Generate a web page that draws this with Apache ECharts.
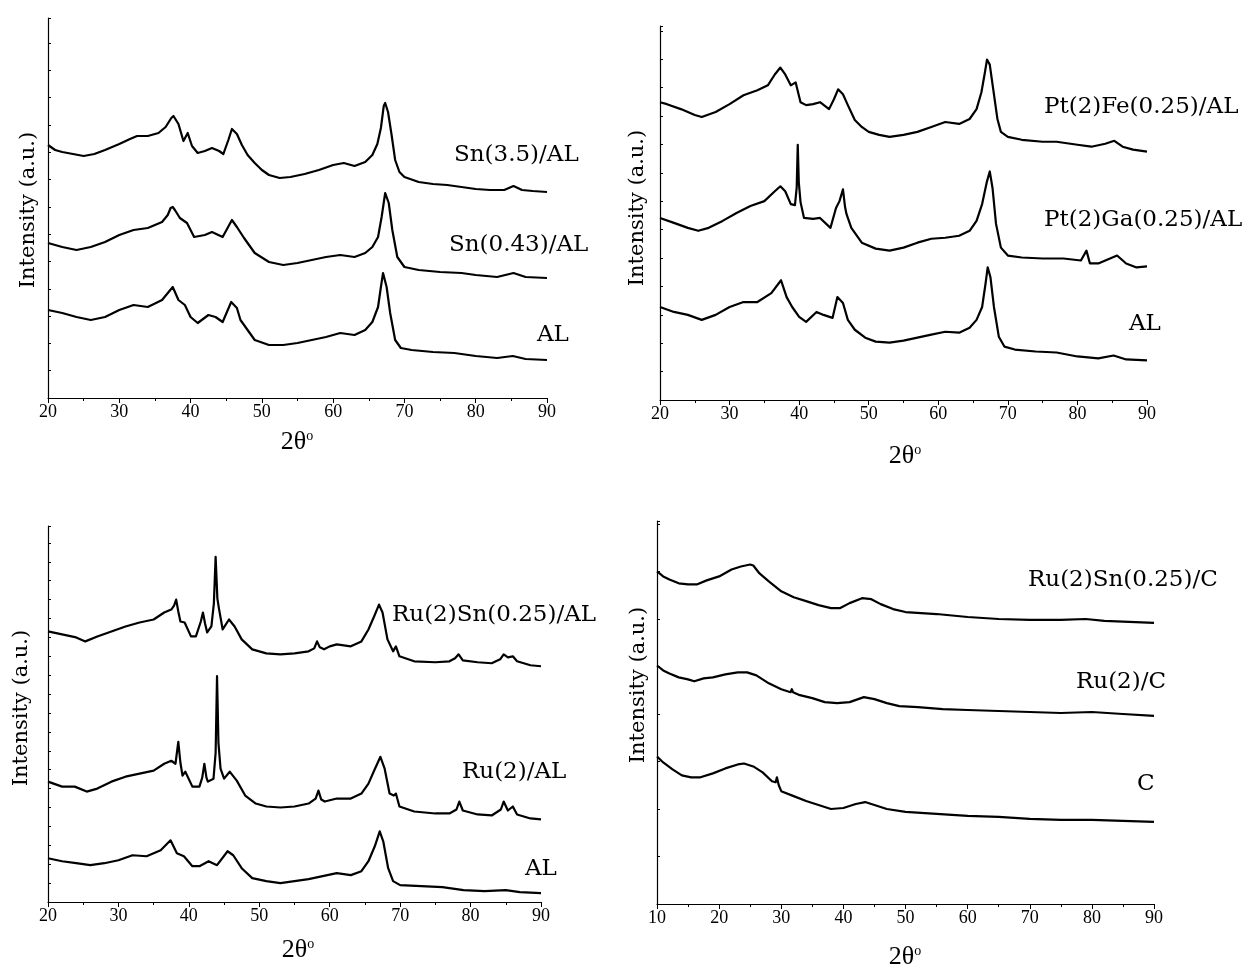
<!DOCTYPE html>
<html>
<head>
<meta charset="utf-8">
<script src="https://cdn.jsdelivr.net/npm/echarts@6/dist/echarts.min.js"></script>
<style>html,body{margin:0;padding:0;background:#fff;}#c{width:1242px;height:973px;}</style>
</head>
<body>
<div id="c"></div>
<script>
// ---------- Data (2θ in degrees, intensity in arbitrary units incl. vertical offset) ----------
// Panel 1 (top-left)
const p1_Sn35 = [[20,253],[21,248],[22,246],[23.5,244],[25,242],[26.5,244],[28,248],[30,254],[31.5,259],[32.5,262],[34,262],[35.5,265],[36.5,271],[37.3,280],[37.6,282],[38.3,274],[39,257],[39.6,265],[40.2,252],[41,245],[42,247],[43,250],[44,247],[44.6,244],[45.3,258],[45.8,269],[46.5,264],[47.2,253],[48,243],[49,235],[50,228],[51,223],[52.5,220],[54,221],[56,224],[58,228],[60,233],[61.5,235],[63,232],[64.5,236],[65.5,243],[66.2,254],[66.7,270],[67.1,292],[67.3,295],[67.7,286],[68.2,263],[68.7,238],[69.3,226],[70,221],[72,216],[74,214],[76,213],[78,211],[80,209],[82,208],[84,208],[85.3,212],[86.5,208],[88,207],[90,206]];
const p1_Sn043 = [[20,155],[22,151],[24,148],[26,151],[28,156],[30,163],[32,168],[34,170],[36,176],[36.8,183],[37.2,190],[37.5,191],[37.8,188],[38.5,180],[39.5,175],[40.5,161],[42,163],[43,166],[44.5,161],[45.8,178],[46.5,171],[47.5,160],[49,145],[51,136],[53,133],[55,135],[57,138],[59,141],[61,143],[63,141],[64.5,145],[65.5,151],[66.3,161],[66.8,181],[67.3,205],[67.8,195],[68.3,168],[69,141],[70,131],[72,128],[75,126],[78,125],[80,123],[83,121],[85.3,125],[87,121],[90,120]];
const p1_AL = [[20,88],[22,85],[24,81],[26,78],[28,81],[30,88],[32,93],[34,91],[36,98],[37.5,111],[38.3,98],[39.2,93],[40,81],[41,75],[42.5,83],[43.5,81],[44.5,76],[45.7,96],[46.5,90],[47,78],[48,68],[49,58],[51,53],[53,53],[55,55],[57,58],[59,61],[61,65],[63,63],[64.5,68],[65.5,76],[66.3,91],[66.7,111],[67,125],[67.5,111],[68,85],[68.7,58],[69.5,50],[71,48],[74,46],[77,45],[80,42],[83,40],[85.2,42],[87,39],[90,38]];
// Panel 2 (top-right)
const p2_PtFe = [[20,301],[21,299],[23,294],[25,288],[26,286],[28,291],[30,299],[32,308],[34,313],[35.5,318],[36.5,329],[37.3,336],[38,329],[38.8,318],[39.5,321],[40.2,301],[41,298],[42,299],[43,301],[44.3,294],[45,304],[45.6,314],[46.3,309],[47,298],[48,283],[49,276],[50,271],[51.5,268],[53,266],[55,268],[57,271],[59,276],[61,281],[63,279],[64.5,284],[65.5,294],[66.2,311],[66.7,331],[67,344],[67.4,339],[67.9,314],[68.5,284],[69,271],[70,266],[72,263],[75,261],[77,261],[80,258],[82,256],[84,259],[85.3,262],[86.5,256],[88,253],[90,251]];
const p2_PtGa = [[20,184],[22,179],[24,174],[25.5,171],[27,174],[29,181],[31,189],[33,196],[35,201],[36.5,211],[37.3,216],[38,211],[38.8,198],[39.4,197],[39.65,215],[39.8,258],[39.95,220],[40.2,200],[40.7,184],[42,183],[43,184],[44.5,174],[45.3,194],[45.8,201],[46.0,203],[46.3,213],[46.6,195],[46.8,188],[47.5,174],[49,159],[51,153],[53,151],[55,154],[57,159],[59,163],[61,164],[63,166],[64.5,171],[65.5,181],[66.3,198],[67,221],[67.4,231],[67.8,214],[68.3,178],[69,154],[70,146],[72,144],[75,143],[78,143],[80.5,141],[81.3,151],[81.8,138],[83,138],[85.7,146],[87,138],[88.5,134],[90,135]];
const p2_AL = [[20,94],[22,89],[24,86],[26,81],[28,86],[30,94],[32,99],[34,99],[36,108],[37.4,121],[38.2,104],[39,94],[40,84],[41,79],[42.5,89],[43.5,86],[44.8,83],[45.5,104],[46.3,98],[47,81],[48,71],[49.5,63],[51,59],[53,58],[55,60],[57,63],[59,66],[61,69],[63,68],[64.5,73],[65.5,81],[66.3,94],[66.8,118],[67.1,134],[67.5,124],[68,94],[68.7,64],[69.5,54],[71,51],[74,49],[77,48],[80,44],[83,42],[85.2,45],[87,41],[90,40]];
// Panel 3 (bottom-left)
const p3_RuSn = [[20,272],[22,269],[24,266],[25.3,262],[27,267],[29,272],[31,277],[33,281],[35,284],[36.5,291],[37.5,294],[37.9,298],[38.2,304],[38.5,292],[38.8,282],[39.4,281],[40.3,267],[41,267],[41.7,282],[42,291],[42.3,280],[42.6,271],[43.2,277],[43.55,300],[43.8,347],[44.05,305],[44.3,294],[44.8,274],[45.7,284],[46.5,277],[47.5,264],[49,254],[51,250],[53,249],[55,250],[57,252],[57.8,255],[58.2,262],[58.6,256],[59.2,254],[60,257],[61,259],[63,257],[64.5,262],[65.5,274],[66.3,287],[67,299],[67.5,291],[68.2,264],[69,252],[69.4,257],[69.9,247],[72,242],[75,241],[77,242],[77.8,245],[78.3,249],[78.9,243],[81,241],[83,240],[84.2,244],[84.7,249],[85.3,246],[86,247],[86.6,242],[88.5,238],[90,237]];
const p3_Ru = [[20,121],[22,116],[23.8,116],[25.5,111],[27,114],[29,121],[31,126],[33,129],[35,132],[36.5,139],[37.5,142],[38.1,139],[38.5,161],[38.8,140],[39.1,127],[39.5,131],[40.5,116],[41.5,116],[41.9,125],[42.2,139],[42.5,125],[42.7,121],[43.5,124],[43.8,150],[44,227],[44.2,160],[44.5,134],[45,124],[45.8,131],[46.8,122],[48,107],[49.5,99],[51,96],[53,95],[55,96],[57,99],[58,104],[58.4,112],[58.8,103],[59.3,101],[61,104],[63,104],[64.5,109],[65.5,119],[66.3,132],[67.2,146],[67.8,134],[68.5,109],[69.1,107],[69.4,109],[69.9,96],[72,91],[75,89],[77,89],[78,93],[78.4,101],[78.9,92],[81,88],[83,87],[84.3,93],[84.7,101],[85.3,92],[86,96],[86.6,88],[88.5,84],[90,83]];
const p3_AL = [[20,44],[22,41],[24,39],[26,37],[28,39],[30,42],[32,47],[34,46],[36,52],[37.4,62],[38.3,49],[39.3,46],[40.5,36],[41.5,36],[42.8,41],[44,37],[45.5,51],[46.3,47],[47.5,34],[49,24],[51,21],[53,19],[55,21],[57,23],[59,26],[61,29],[63,27],[64.5,31],[65.5,41],[66.4,56],[67.1,71],[67.6,61],[68.3,34],[69,21],[70,17],[73,16],[76,15],[79,12],[82,11],[85,12],[87,10],[90,9]];
// Panel 4 (bottom-right)
const p4_RuSnC = [[10,336],[11,331],[12,328],[13.5,324],[15,323],[16.5,323],[18,327],[20,331],[22,338],[23.5,341],[25,343],[25.5,342],[26.5,334],[28,326],[30,316],[32,310],[34,306],[36,302],[38,299],[39.5,299],[41,304],[43,309],[44.5,308],[46,303],[48,298],[50,295],[55,293],[60,290],[65,288],[70,287],[75,287],[79,288],[82,286],[86,285],[90,284]];
const p4_RuC = [[10,241],[11,236],[12,233],[13.5,229],[15,227],[16,225],[17.5,228],[19,229],[21,232],[23,234],[24.5,234],[26,231],[28,223],[30,217],[31.5,214],[31.7,217],[31.9,214],[33,211],[35,208],[37,204],[39,203],[41,204],[43.3,209],[45,207],[47,203],[49,200],[52,199],[56,197],[60,196],[65,195],[70,194],[75,193],[80,194],[85,192],[90,190]];
const p4_C = [[10,149],[11,143],[12.5,136],[14,130],[15.5,128],[17,128],[19,132],[21,137],[23,141],[24,142],[25.5,139],[27,133],[28.5,124],[29.1,123],[29.3,128],[29.6,120],[30,114],[32,109],[34,104],[36,100],[38,96],[40,97],[42,101],[43.5,103],[45,100],[47,96],[50,93],[55,91],[60,89],[65,88],[70,86],[75,85],[80,85],[85,84],[90,83]];

const seriesNames = [
  ['Sn(3.5)/AL','Sn(0.43)/AL','AL'],
  ['Pt(2)Fe(0.25)/AL','Pt(2)Ga(0.25)/AL','AL'],
  ['Ru(2)Sn(0.25)/AL','Ru(2)/AL','AL'],
  ['Ru(2)Sn(0.25)/C','Ru(2)/C','C']
];
const seriesData = [
  [p1_Sn35, p1_Sn043, p1_AL],
  [p2_PtFe, p2_PtGa, p2_AL],
  [p3_RuSn, p3_Ru, p3_AL],
  [p4_RuSnC, p4_RuC, p4_C]
];
const xRanges = [[20,90],[20,90],[20,90],[10,90]];
const yMax = [380, 378, 378, 387];
const yTickStep = [27.3, 28.7, 19, 48];
const yTitle = 'Intensity (a.u.)';

// ---------- Layout ----------
const grids = [
  {left:48, top:18, width:499, height:380},
  {left:660, top:26, width:487, height:374},
  {left:48, top:526, width:493, height:376},
  {left:657, top:521, width:497, height:383}
];
const labelPos = [
  [[454,158],[449,248],[537,338]],
  [[1044,110],[1044,223],[1129,327]],
  [[392,618],[462,775],[525,872]],
  [[1028,583],[1076,685],[1137,787]]
];
const yNamePos = [[29,210],[638,208],[22,708],[639,685]];
const xNamePos = [[297,442],[905,456],[298,950],[905,957]];

const serif = 'DejaVu Serif';
const tickFont = 'Liberation Serif';

const option = {
  animation:false,
  backgroundColor:'#fff',
  grid: grids.map(g => Object.assign({outerBoundsMode:'none', containLabel:false}, g)),
  xAxis: xRanges.map((r,i) => ({
    type:'value', gridIndex:i, min:r[0], max:r[1], interval:10,
    axisLine:{show:true, onZero:false, lineStyle:{color:'#000', width:1.2}},
    axisTick:{show:true, inside:false, length:5, lineStyle:{color:'#000'}},
    minorTick:{show:true, splitNumber:2, length:3, lineStyle:{color:'#000'}},
    axisLabel:{show:true, color:'#000', fontFamily:tickFont, fontSize:18, margin:5, showMinLabel:true, showMaxLabel:true},
    splitLine:{show:false}, minorSplitLine:{show:false}
  })),
  yAxis: yMax.map((m,i) => ({
    type:'value', gridIndex:i, min:0, max:m, interval:yTickStep[i],
    axisLine:{show:true, onZero:false, lineStyle:{color:'#000', width:1.2}},
    axisTick:{show:true, inside:true, length:3, lineStyle:{color:'#000'}},
    axisLabel:{show:false},
    splitLine:{show:false}
  })),
  series: [],
  graphic: []
};

seriesData.forEach((group,i) => {
  group.forEach((d,j) => {
    option.series.push({
      type:'line', name:seriesNames[i][j], xAxisIndex:i, yAxisIndex:i, data:d,
      showSymbol:false, symbol:'none', smooth:false, silent:true,
      lineStyle:{color:'#000', width:2.2, join:'round'}
    });
    option.graphic.push({
      type:'text', left:labelPos[i][j][0], top:labelPos[i][j][1]-14,
      style:{text:seriesNames[i][j], fill:'#000', font:'23px "'+serif+'"'}
    });
  });
  option.graphic.push({
    type:'text', x:yNamePos[i][0], y:yNamePos[i][1], rotation:Math.PI/2,
    style:{text:yTitle, fill:'#000', font:'21px "'+serif+'"', align:'center', verticalAlign:'middle'}
  });
  option.graphic.push({
    type:'text', x:xNamePos[i][0], y:xNamePos[i][1],
    style:{
      text:'{a|2θ}{b|o}', align:'center', verticalAlign:'middle',
      rich:{a:{fontFamily:tickFont, fontSize:26, fill:'#000', color:'#000'},
            b:{fontFamily:tickFont, fontSize:14, color:'#000', verticalAlign:'top', padding:[0,0,12,0]}}
    }
  });
});

const chart = echarts.init(document.getElementById('c'), null, {renderer:'canvas'});
chart.setOption(option);
</script>
</body>
</html>
